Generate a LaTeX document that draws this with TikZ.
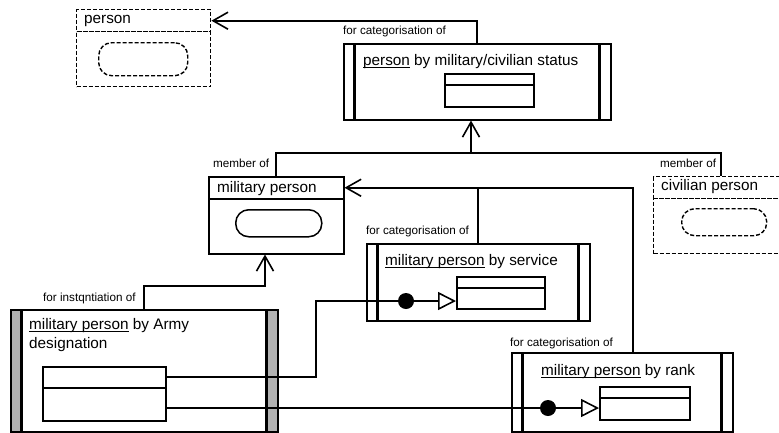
\documentclass[tikz,border=0pt]{standalone}
\usepackage{fontspec}
\setmainfont{Liberation Sans}
\usetikzlibrary{arrows.meta}
% underline sitting just below the baseline
\newcommand\ulword[1]{\setbox0=\hbox{#1}\rlap{\rule[-2.3pt]{\wd0}{0.8pt}}\box0\relax}
\begin{document}
\begin{tikzpicture}[x=1pt,y=-1pt,
  conn/.style={line width=1.6pt},
  barb/.style={-{Straight Barb[length=15pt,width=17pt]}},
  tri/.style={-{Triangle[open,length=18pt,width=18pt]}},
  frame/.style={draw,line width=1.5pt,inner sep=0pt,anchor=north west},
  dframe/.style={frame,line width=1.4pt,dash pattern=on 4pt off 2pt},
  oval/.style={draw,line width=1.5pt,inner sep=0pt,anchor=north west,rounded corners=13pt},
  doval/.style={oval,line width=1.4pt,dash pattern=on 4pt off 2pt},
  barbox/.style={frame,path picture={
    \fill[#1] (path picture bounding box.north west) rectangle ([xshift=11pt]path picture bounding box.south west);
    \fill[#1] (path picture bounding box.north east) rectangle ([xshift=-11pt]path picture bounding box.south east);
    \draw[line width=2.6pt] ([xshift=11pt]path picture bounding box.north west) -- ([xshift=11pt]path picture bounding box.south west);
    \draw[line width=2.6pt] ([xshift=-11pt]path picture bounding box.north east) -- ([xshift=-11pt]path picture bounding box.south east);
  }},
  barbox/.default=white,
  dot/.style={circle,fill=black,inner sep=0pt,minimum size=16pt},
  txt/.style={inner sep=0pt,anchor=base west,font=\fontsize{15.3}{18}\selectfont},
  lbl/.style={inner sep=0pt,anchor=base west,font=\fontsize{11.7}{14}\selectfont}
]
\useasboundingbox (0,0) rectangle (779,432);
\clip (0,0) rectangle (779,432);

% person (dashed)
\node[dframe,minimum width=134pt,minimum height=22pt] (ph) at (76,9) {};
\node[dframe,minimum width=134pt,minimum height=55pt] (pb) at (76,31) {};
\node[doval,minimum width=89pt,minimum height=33pt] (po) at (98,42) {};
\node[txt] (pt) at (84,23) {person};

% person by military/civilian status
\node[barbox,minimum width=267pt,minimum height=76pt] (cat) at (343,43) {};
\node[frame,minimum width=89pt,minimum height=11pt] (cth) at (444,73) {};
\node[frame,minimum width=89pt,minimum height=22pt] (ctb) at (444,84) {};
\node[txt] (ct) at (363,65) {\ulword{person} by military/civilian status};
\node[lbl] (cl) at (343,34) {for categorisation of};

% military person
\node[frame,minimum width=135pt,minimum height=22pt] (mph) at (208,176) {};
\node[frame,minimum width=135pt,minimum height=55pt] (mpb) at (208,198) {};
\node[oval,minimum width=86pt,minimum height=27pt] (mpo) at (235,209) {};
\node[txt] (mpt) at (217,192) {military person};
\node[lbl] (mpl) at (213,167) {member of};

% civilian person (dashed, runs past the right edge)
\node[dframe,minimum width=160pt,minimum height=22pt] (civh) at (653,176) {};
\node[dframe,minimum width=160pt,minimum height=55pt] (civb) at (653,198) {};
\node[doval,minimum width=85pt,minimum height=27pt] (civo) at (681,208) {};
\node[txt] (civt) at (661,190) {civilian person};
\node[lbl] (civl) at (660,167) {member of};

% military person by service
\node[barbox,minimum width=223pt,minimum height=77pt] (svc) at (366,243) {};
\node[frame,minimum width=88pt,minimum height=11pt] (sth) at (456,276) {};
\node[frame,minimum width=88pt,minimum height=21pt] (stb) at (456,287) {};
\node[txt] (st) at (385,265) {\ulword{military person} by service};
\node[lbl] (sl) at (366,234) {for categorisation of};

% military person by rank
\node[barbox,minimum width=221pt,minimum height=79pt] (rank) at (511,352) {};
\node[frame,minimum width=90pt,minimum height=11pt] (rth) at (599,386) {};
\node[frame,minimum width=90pt,minimum height=22pt] (rtb) at (599,397) {};
\node[txt] (rt) at (541,375) {\ulword{military person} by rank};
\node[lbl] (rl) at (510,346) {for categorisation of};

% military person by Army designation
\node[barbox=black!30,minimum width=267pt,minimum height=122pt] (army) at (10,309) {};
\node[frame,minimum width=123pt,minimum height=21pt] (ath) at (42,366) {};
\node[frame,minimum width=123pt,minimum height=33pt] (atb) at (42,387) {};
\node[txt] (at1) at (29,329) {\ulword{military person} by Army};
\node[txt] (at2) at (29,348) {designation};
\node[lbl] (al) at (43,301) {for instqntiation of};

% member of
\coordinate (bus) at (471,153);
\coordinate (cm) at (721,176);
\draw[conn] (mph.north) |- (bus) -| (civh.north -| cm);
\draw[conn,barb] (bus) -- (cat.south -| bus);

% categorisation of person
\draw[conn,barb] (cat.north) |- (ph.east);

% categorisation of military person
\coordinate (rk) at (633,187);
\draw[conn,barb] (rank.north -| rk) |- (mph.east);
\draw[conn] (svc.north) -- (svc.north |- mph.east);

% instantiation
\coordinate (inst) at (265,286);
\draw[conn,barb] (army.north) |- (inst) -- (mpb.south -| inst);

% Army designation to service
\coordinate (exit) at (165,377);
\coordinate (bend) at (316,301);
\node[dot] (d1) at (406,301) {};
\draw[conn] (ath.east |- exit) -| (bend) -- (d1.center);
\draw[conn,tri] (d1.center) -- (d1 -| sth.west);

% Army designation to rank
\node[dot] (d2) at (548,408) {};
\draw[conn] (d2 -| atb.east) -- (d2.center);
\draw[conn,tri] (d2.center) -- (d2 -| rth.west);
\end{tikzpicture}
\end{document}
